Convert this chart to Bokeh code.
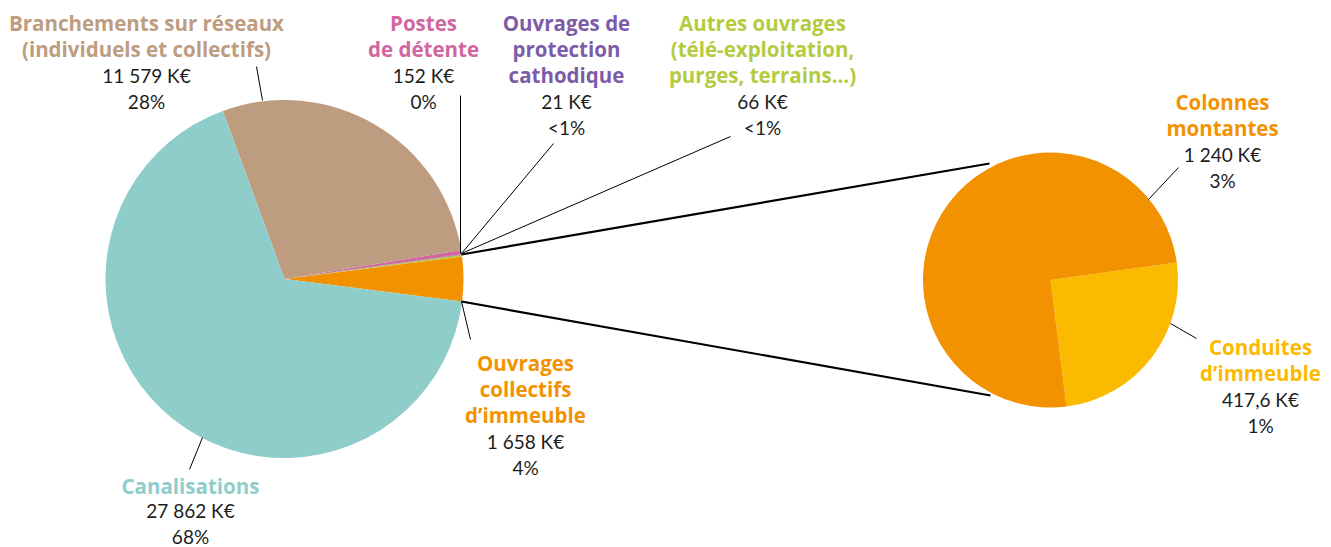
import numpy as np
from bokeh.plotting import figure
from bokeh.models import Range1d
from bokeh.core.properties import value
from bokeh.embed import file_html
from bokeh.resources import INLINE

# ---- data ----
main_labels = ["Ouvrages collectifs d'immeuble", "Autres ouvrages", "Ouvrages de protection cathodique",
               "Postes de détente", "Branchements sur réseaux", "Canalisations"]
main_values = [1658, 66, 21, 152, 11579, 27862]
main_colors = ["#F39200", "#B5CB3F", "#7C5CA6", "#D166A0", "#BD9C7F", "#8FCDCB"]
main_value_text = ["1 658 K€", "66 K€", "21 K€", "152 K€", "11 579 K€", "27 862 K€"]
main_pct_text = ["4%", "<1%", "<1%", "0%", "28%", "68%"]
main_titles = [["Ouvrages", "collectifs", "d’immeuble"],
               ["Autres ouvrages", "(télé-exploitation,", "purges, terrains...)"],
               ["Ouvrages de", "protection", "cathodique"],
               ["Postes", "de détente"],
               ["Branchements sur réseaux", "(individuels et collectifs)"],
               ["Canalisations"]]

sub_labels = ["Conduites d'immeuble", "Colonnes montantes"]
sub_values = [417.6, 1240]
sub_colors = ["#FBBA00", "#F39200"]
sub_value_text = ["417,6 K€", "1 240 K€"]
sub_pct_text = ["1%", "3%"]
sub_titles = [["Conduites", "d’immeuble"], ["Colonnes", "montantes"]]

W, H = 1331, 547
p = figure(width=W, height=H, output_backend="svg", toolbar_location=None,
           x_range=Range1d(0, W), y_range=Range1d(0, H),
           min_border=0)
p.axis.visible = False
p.grid.visible = False
p.outline_line_color = None
p.background_fill_color = "white"

def Y(iy):
    return 547 - iy

# main pie
mv = np.array(main_values, dtype=float)
mf = mv / mv.sum()
start0 = -mf[0] * np.pi
ends = start0 + np.cumsum(mf) * 2 * np.pi
starts = np.concatenate([[start0], ends[:-1]])
cx, cy, r = 284, Y(278.5), 179
p.wedge(x=cx, y=cy, radius=r, start_angle=list(starts), end_angle=list(ends),
        fill_color=main_colors, line_color=None, direction="anticlock")

# sub pie
sv = np.array(sub_values, dtype=float)
sf = sv / sv.sum()
s_start0 = np.deg2rad(7.9) - sf[0] * 2 * np.pi
s_ends = s_start0 + np.cumsum(sf) * 2 * np.pi
s_starts = np.concatenate([[s_start0], s_ends[:-1]])
sx, sy, sr = 1050, Y(279.5), 127.5
p.wedge(x=sx, y=sy, radius=sr, start_angle=list(s_starts), end_angle=list(s_ends),
        fill_color=sub_colors, line_color=None, direction="anticlock")

# connector thick lines
p.segment(x0=[461, 461], y0=[Y(254), Y(301)], x1=[989, 990], y1=[Y(163), Y(395)],
          line_color="black", line_width=2.2)

# leader lines
lx0 = [262, 460, 461, 461, 461, 202, 1148, 1170]
ly0 = [100, 253, 253, 253, 301, 437, 199, 323]
lx1 = [256, 460, 553, 730, 470, 189, 1178, 1196]
ly1 = [66, 95, 143, 136, 339, 469, 167, 338]
p.segment(x0=lx0, y0=[Y(v) for v in ly0], x1=lx1, y1=[Y(v) for v in ly1],
          line_color="black", line_width=1)

TF_B = value("Open Sans")
TF_N = value("Lato")

def block(x, y_top, title_lines, color, val, pct, lh=26.3):
    ys = [y_top + i * lh for i in range(len(title_lines) + 2)]
    p.text(x=[x] * len(title_lines), y=[Y(v) for v in ys[:len(title_lines)]], text=title_lines,
           text_color=color, text_font=TF_B, text_font_style="bold", text_font_size="20.5px",
           text_align="center", text_baseline="middle")
    p.text(x=[x, x], y=[Y(ys[-2]), Y(ys[-1])], text=[val, pct],
           text_color="#1d1d1b", text_font=TF_N, text_font_size="19px",
           text_align="center", text_baseline="middle")

# main labels positions: (center x, first line y, line step)
pos_main = [(525, 362, 26.3), (762, 22, 26.3), (566, 22, 26.3), (423, 22, 26.3),
            (146, 22, 26.3), (190, 485, 25.3)]
for i in range(len(main_values)):
    block(pos_main[i][0], pos_main[i][1], main_titles[i], main_colors[i],
          main_value_text[i], main_pct_text[i], pos_main[i][2])

pos_sub = [(1260, 346), (1222, 101)]
for i in range(len(sub_values)):
    block(pos_sub[i][0], pos_sub[i][1], sub_titles[i], sub_colors[i],
          sub_value_text[i], sub_pct_text[i])

open("out.html", "w").write(file_html(p, INLINE))
